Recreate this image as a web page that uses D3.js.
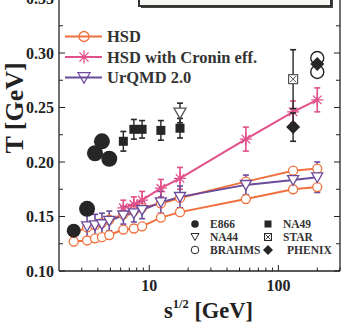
<!DOCTYPE html>
<html><head><meta charset="utf-8">
<script src="https://cdn.jsdelivr.net/npm/d3@7"></script>
<style>html,body{margin:0;padding:0;background:#fff;}svg{display:block;}</style>
</head><body>
<svg id="c" width="343" height="324"></svg>
<script>
// ---- data ----
const energies = [2.6,3.3,3.8,4.3,4.9,6.3,7.6,8.8,12.3,17.3,56,130,200];
const hsdLow   = [0.127,0.128,0.130,0.131,0.133,0.138,0.139,0.141,0.149,0.154,0.166,0.175,0.177];
const hsdHigh  = [0.135,0.140,0.142,0.144,0.147,0.152,0.155,0.158,0.162,0.167,0.182,0.192,0.194];
const urqmdS   = [3.3,3.8,4.3,4.9,6.3,7.6,8.8,12.3,17.3,56,130,200];
const urqmdT   = [0.141,0.142,0.143,0.146,0.151,0.153,0.156,0.163,0.168,0.179,0.1835,0.186];
const urqmdErr = [0.011,0.010,0.010,0.009,0.008,0.008,0.008,0.010,0.010,0.009,0.009,0.014];
const croninS  = [6.3,7.6,8.8,12.3,17.3,56,130,200];
const croninT  = [0.158,0.161,0.165,0.176,0.185,0.221,0.246,0.257];
const croninErr= [0.007,0.007,0.008,0.008,0.010,0.011,0.010,0.011];
const e866S = [2.6,3.3,3.8,4.3,4.9];
const e866T = [0.137,0.157,0.208,0.219,0.203];
const na49S = [6.3,7.6,8.8,12.3,17.3];
const na49T = [0.219,0.230,0.230,0.229,0.231];
const na49Err = [0.009,0.009,0.008,0.009,0.009];
const na44S = [17.3], na44T = [0.245], na44Err = [0.009];
const starS = [130], starT = [0.276], starErr = [0.027];
const brahmsS = [200,200], brahmsT = [0.2954,0.2826];
const phenixS = [130,200], phenixT = [0.232,0.290], phenixErr = [0.013,0.006];
const yTicks = [0.10,0.15,0.20,0.25,0.30,0.35];
const xTicks = [10,100];
const modelLegend = ["HSD","HSD with Cronin eff.","UrQMD 2.0"];
const expLegend = [["E866","NA49"],["NA44","STAR"],["BRAHMS","PHENIX"]];

// ---- setup ----
const ORANGE = "#f0703e", PINK = "#e2508a", PURPLE = "#6b4b9b", DARK = "#262626";
const svg = d3.select("#c");
const L = 59, R = 340, B = 271, T = -1.5;
const x = d3.scaleLog().domain([2, 300]).range([L, R]);
const y = d3.scaleLinear().domain([0.10, 0.35]).range([B, T]);
const font = "'Liberation Serif','Times New Roman',serif";

// top box (partial)
svg.append("rect").attr("x",141).attr("y",-20).attr("width",192).attr("height",28).attr("fill","#444");
svg.append("rect").attr("x",139).attr("y",-22).attr("width",192).attr("height",28).attr("fill","#f8f7f4").attr("stroke","#333").attr("stroke-width",2);

// frame
const g = svg.append("g");
g.append("line").attr("x1",L).attr("x2",L).attr("y1",T-5).attr("y2",B).attr("stroke","#222").attr("stroke-width",1.3);
g.append("line").attr("x1",R).attr("x2",R).attr("y1",T-5).attr("y2",B).attr("stroke","#222").attr("stroke-width",1.3);
g.append("line").attr("x1",L).attr("x2",R).attr("y1",B).attr("y2",B).attr("stroke","#222").attr("stroke-width",1.3);

// y ticks
const yMinor = d3.range(0.125,0.35,0.05);
yTicks.forEach(v=>{
  g.append("line").attr("x1",L).attr("x2",L+6).attr("y1",y(v)).attr("y2",y(v)).attr("stroke","#222");
  g.append("line").attr("x1",R).attr("x2",R-6).attr("y1",y(v)).attr("y2",y(v)).attr("stroke","#222");
  g.append("text").attr("x",L-5).attr("y",y(v)).attr("dy","0.35em").attr("text-anchor","end")
    .attr("font-family",font).attr("font-weight","bold").attr("font-size",16).attr("fill","#222").text(v.toFixed(2));
});
yMinor.forEach(v=>{
  g.append("line").attr("x1",L).attr("x2",L+4).attr("y1",y(v)).attr("y2",y(v)).attr("stroke","#222");
  g.append("line").attr("x1",R).attr("x2",R-4).attr("y1",y(v)).attr("y2",y(v)).attr("stroke","#222");
});
// x ticks
const xMinor = [3,4,5,6,7,8,9,20,30,40,50,60,70,80,90,200,300];
xTicks.forEach(v=>{
  g.append("line").attr("x1",x(v)).attr("x2",x(v)).attr("y1",B).attr("y2",B-6).attr("stroke","#222");
  g.append("text").attr("x",x(v)).attr("y",291).attr("text-anchor","middle")
    .attr("font-family",font).attr("font-weight","bold").attr("font-size",16).attr("fill","#222").text(v);
});
xMinor.forEach(v=>{
  g.append("line").attr("x1",x(v)).attr("x2",x(v)).attr("y1",B).attr("y2",B-3.5).attr("stroke","#222");
});

// axis titles
const xt = svg.append("text").attr("x",164).attr("y",318).attr("font-family",font).attr("font-weight","bold").attr("font-size",22.5).attr("fill","#222");
xt.append("tspan").text("s");
xt.append("tspan").attr("dy",-10).attr("font-size",12.5).text("1/2");
xt.append("tspan").attr("dy",10).text(" [GeV]");
svg.append("text").attr("transform","translate(23,108) rotate(-90)").attr("text-anchor","middle")
  .attr("font-family",font).attr("font-weight","bold").attr("font-size",26).attr("fill","#222").text("T [GeV]");

// helpers
function errbars(sArr,tArr,eArr,color,w){
  sArr.forEach((s,i)=>{
    const cx=x(s), y1=y(tArr[i]-eArr[i]), y2=y(tArr[i]+eArr[i]);
    g.append("line").attr("x1",cx).attr("x2",cx).attr("y1",y1).attr("y2",y2).attr("stroke",color).attr("stroke-width",w||1.6);
    [y1,y2].forEach(yy=>g.append("line").attr("x1",cx-3).attr("x2",cx+3).attr("y1",yy).attr("y2",yy).attr("stroke",color).attr("stroke-width",1.6));
  });
}
function lineOf(sArr,tArr,color){
  g.append("path").attr("d",d3.line().x(d=>x(d[0])).y(d=>y(d[1]))(sArr.map((s,i)=>[s,tArr[i]])))
    .attr("fill","none").attr("stroke",color).attr("stroke-width",2);
}
const circ = (cx,cy,r,fill,stroke,sw)=>g.append("circle").attr("cx",cx).attr("cy",cy).attr("r",r).attr("fill",fill).attr("stroke",stroke).attr("stroke-width",sw||1.3);
const tri = (cx,cy,s,fill,stroke)=>g.append("path").attr("d",`M${cx-s},${cy-s*0.8}L${cx+s},${cy-s*0.8}L${cx},${cy+s*0.95}Z`).attr("fill",fill).attr("stroke",stroke).attr("stroke-width",1.3);
const star = (cx,cy,s,color)=>{
  const p=[]; for(let k=0;k<4;k++){const a=k*Math.PI/4; p.push(`M${cx-s*Math.cos(a)},${cy-s*Math.sin(a)}L${cx+s*Math.cos(a)},${cy+s*Math.sin(a)}`);}
  g.append("path").attr("d",p.join("")).attr("stroke",color).attr("stroke-width",1.3).attr("fill","none");
};

// models
lineOf(energies,hsdLow,ORANGE);
lineOf(energies,hsdHigh,ORANGE);
lineOf(croninS,croninT,PINK);
lineOf(urqmdS,urqmdT,PURPLE);
errbars(croninS,croninT,croninErr,PINK);
errbars(urqmdS,urqmdT,urqmdErr,PURPLE);
energies.forEach((s,i)=>{circ(x(s),y(hsdLow[i]),4.5,"#fff",ORANGE);circ(x(s),y(hsdHigh[i]),4.5,"#fff",ORANGE);});
croninS.forEach((s,i)=>star(x(s),y(croninT[i]),6,PINK));
urqmdS.forEach((s,i)=>tri(x(s),y(urqmdT[i]),5.5,"#fff",PURPLE));

// experiments
errbars(starS,starT,starErr,DARK,1.4);
errbars(phenixS,phenixT,phenixErr,DARK,1.4);
errbars(na49S,na49T,na49Err,DARK,1.4);
errbars(na44S,na44T,na44Err,DARK,1.4);
e866S.forEach((s,i)=>circ(x(s),y(e866T[i]),i===0?7:8,DARK,"none",0));
na49S.forEach((s,i)=>g.append("rect").attr("x",x(s)-4.5).attr("y",y(na49T[i])-4.5).attr("width",9).attr("height",9).attr("fill",DARK));
na44S.forEach((s,i)=>tri(x(s),y(na44T[i]),6,"#fff","#555"));
starS.forEach((s,i)=>{const cx=x(s),cy=y(starT[i]);
  g.append("rect").attr("x",cx-4.5).attr("y",cy-4.5).attr("width",9).attr("height",9).attr("fill","#fff").attr("stroke","#555").attr("stroke-width",1.2);
  g.append("path").attr("d",`M${cx-3},${cy-3}L${cx+3},${cy+3}M${cx+3},${cy-3}L${cx-3},${cy+3}`).attr("stroke","#555").attr("stroke-width",1);});
brahmsS.forEach((s,i)=>circ(x(s),y(brahmsT[i]),6.5,"#fff",DARK,1.4));
phenixS.forEach((s,i)=>{const cx=x(s),cy=y(phenixT[i]);
  g.append("path").attr("d",`M${cx},${cy-7}L${cx+7},${cy}L${cx},${cy+7}L${cx-7},${cy}Z`).attr("fill",DARK);});

// model legend
const legY=[36.5,57,77.5], legC=[ORANGE,PINK,PURPLE];
modelLegend.forEach((t,i)=>{
  const yy=legY[i];
  svg.append("line").attr("x1",65).attr("x2",102).attr("y1",yy).attr("y2",yy).attr("stroke",legC[i]).attr("stroke-width",2);
  if(i===0) circ(84,yy,5,"#fff",ORANGE);
  if(i===1) star(84,yy,6.5,PINK);
  if(i===2) tri(84,yy,6,"#fff",PURPLE);
  svg.append("text").attr("x",107).attr("y",yy).attr("dy","0.35em").attr("font-family",font).attr("font-weight","bold")
    .attr("font-size",16.5).attr("fill","#333").text(t);
});

// experiment legend
const eRows=[224,237,250];
const ek = svg.append("g");
function expMark(kind,cx,cy){
  if(kind==="E866") ek.append("circle").attr("cx",cx).attr("cy",cy).attr("r",3.8).attr("fill",DARK);
  if(kind==="NA49") ek.append("rect").attr("x",cx-3.5).attr("y",cy-3.5).attr("width",7).attr("height",7).attr("fill",DARK);
  if(kind==="NA44") ek.append("path").attr("d",`M${cx-4},${cy-3.5}L${cx+4},${cy-3.5}L${cx},${cy+3.5}Z`).attr("fill","#fff").attr("stroke",DARK).attr("stroke-width",1);
  if(kind==="STAR"){ek.append("rect").attr("x",cx-3.5).attr("y",cy-3.5).attr("width",7).attr("height",7).attr("fill","#fff").attr("stroke",DARK).attr("stroke-width",1);
    ek.append("path").attr("d",`M${cx-2.5},${cy-2.5}L${cx+2.5},${cy+2.5}M${cx+2.5},${cy-2.5}L${cx-2.5},${cy+2.5}`).attr("stroke",DARK).attr("stroke-width",0.9);}
  if(kind==="BRAHMS") ek.append("circle").attr("cx",cx).attr("cy",cy).attr("r",3.8).attr("fill","#fff").attr("stroke",DARK).attr("stroke-width",1);
  if(kind==="PHENIX") ek.append("path").attr("d",`M${cx},${cy-5}L${cx+5},${cy}L${cx},${cy+5}L${cx-5},${cy}Z`).attr("fill",DARK);
}
expLegend.forEach((row,i)=>{
  row.forEach((t,j)=>{
    const mx = j===0?195:268, tx = j===0?210:(t==="PHENIX"?287:283);
    expMark(t,mx,eRows[i]);
    ek.append("text").attr("x",tx).attr("y",eRows[i]).attr("dy","0.35em").attr("font-family",font).attr("font-weight","bold")
      .attr("font-size",11.5).attr("fill","#333").text(t);
  });
});
</script>
</body></html>
